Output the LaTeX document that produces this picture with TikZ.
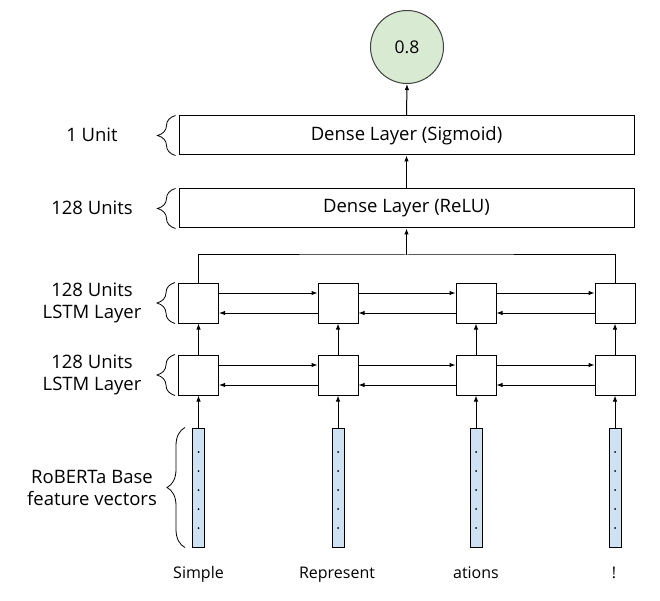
\documentclass[tikz,border=0pt]{standalone}
\usepackage{fontspec}
\setmainfont{Open Sans}
\usetikzlibrary{decorations.pathreplacing,arrows.meta}
\definecolor{vert}{RGB}{217,234,211}
\definecolor{bleu}{RGB}{207,226,243}

\begin{document}
\begin{tikzpicture}[x=1pt,y=-1pt,
	couche/.style={draw,line width=1pt,minimum width=455pt,minimum height=39pt,inner sep=0pt,font=\fontsize{18.5}{22}\selectfont},
	cellule/.style={draw,line width=1pt,minimum size=40pt,inner sep=0pt},
	vecteur/.style={draw,line width=1pt,fill=bleu,minimum width=12pt,minimum height=119pt,inner sep=0pt},
	etiq/.style={align=center,font=\fontsize{18.5}{22}\selectfont},
	mot/.style={anchor=base,font=\fontsize{16}{19}\selectfont},
	trait/.style={line width=1pt},
	fleche/.style={line width=1pt,-{Latex[length=6pt,width=4.5pt]}},
	accolade/.style={decorate,decoration={brace,amplitude=18pt},line width=0.8pt}]
	\useasboundingbox (0,0) rectangle (660,601);
	% sortie et couches denses
	\node[circle,draw=black!75,line width=1pt,fill=vert,minimum size=73pt,inner sep=0pt,font=\fontsize{17.5}{21}\selectfont] (sortie) at (407,47) {0.8};
	\node[couche] (sigmo) at (406.5,135.5) {Dense Layer (Sigmoid)};
	\node[couche] (relu) at (406.5,208.5) {Dense Layer (ReLU)};
	% cellules LSTM
	\node[cellule] (h1) at (198.5,303) {};
	\node[cellule] (h2) at (338,303) {};
	\node[cellule] (h3) at (476,303) {};
	\node[cellule] (h4) at (615,303) {};
	\node[cellule] (b1) at (198.5,375) {};
	\node[cellule] (b2) at (338,375) {};
	\node[cellule] (b3) at (476,375) {};
	\node[cellule] (b4) at (615,375) {};
	% vecteurs RoBERTa
	\node[vecteur] (v1) at (198.5,487.5) {};
	\node[vecteur] (v2) at (338,487.5) {};
	\node[vecteur] (v3) at (476,487.5) {};
	\node[vecteur] (v4) at (615,487.5) {};
	\fill (198.5,452) circle (1) (198.5,471) circle (1) (198.5,490) circle (1) (198.5,509) circle (1) (198.5,528) circle (1);
	\fill (338,452) circle (1) (338,471) circle (1) (338,490) circle (1) (338,509) circle (1) (338,528) circle (1);
	\fill (476,452) circle (1) (476,471) circle (1) (476,490) circle (1) (476,509) circle (1) (476,528) circle (1);
	\fill (615,452) circle (1) (615,471) circle (1) (615,490) circle (1) (615,509) circle (1) (615,528) circle (1);
	% mots
	\node[mot] (m1) at (198.5,578) {Simple};
	\node[mot] (m2) at (337,578) {Represent};
	\node[mot] (m3) at (476,578) {ations};
	\node[mot] (m4) at (614,578) {!};
	% etiquettes a gauche
	\node[etiq] (e1) at (92,135) {1 Unit};
	\node[etiq] (e2) at (92,208) {128 Units};
	\node[etiq] (e3) at (92,303) {128 Units\\LSTM Layer};
	\node[etiq] (e4) at (92,375) {128 Units\\LSTM Layer};
	\node[etiq] (e5) at (92,488) {RoBERTa Base\\feature vectors};
	\draw[accolade] ([xshift=-3pt]sigmo.south west) -- ([xshift=-3pt]sigmo.north west);
	\draw[accolade] ([xshift=-3pt]relu.south west) -- ([xshift=-3pt]relu.north west);
	\draw[accolade] ([xshift=-3pt]h1.south west) -- ([xshift=-3pt]h1.north west);
	\draw[accolade] ([xshift=-3pt]b1.south west) -- ([xshift=-3pt]b1.north west);
	\draw[accolade] ([xshift=-7pt]v1.south west) -- ([xshift=-7pt]v1.north west);
	% fleches verticales
	\draw[fleche] (v1.north) -- (b1.south);
	\draw[fleche] (v2.north) -- (b2.south);
	\draw[fleche] (v3.north) -- (b3.south);
	\draw[fleche] (v4.north) -- (b4.south);
	\draw[fleche] (b1.north) -- (h1.south);
	\draw[fleche] (b2.north) -- (h2.south);
	\draw[fleche] (b3.north) -- (h3.south);
	\draw[fleche] (b4.north) -- (h4.south);
	% fleches bidirectionnelles
	\draw[fleche] ([yshift=10pt]b1.east) -- ([yshift=10pt]b2.west);
	\draw[fleche] ([yshift=10pt]b2.east) -- ([yshift=10pt]b3.west);
	\draw[fleche] ([yshift=10pt]b3.east) -- ([yshift=10pt]b4.west);
	\draw[fleche] ([yshift=-10pt]b4.west) -- ([yshift=-10pt]b3.east);
	\draw[fleche] ([yshift=-10pt]b3.west) -- ([yshift=-10pt]b2.east);
	\draw[fleche] ([yshift=-10pt]b2.west) -- ([yshift=-10pt]b1.east);
	\draw[fleche] ([yshift=10pt]h1.east) -- ([yshift=10pt]h2.west);
	\draw[fleche] ([yshift=10pt]h2.east) -- ([yshift=10pt]h3.west);
	\draw[fleche] ([yshift=10pt]h3.east) -- ([yshift=10pt]h4.west);
	\draw[fleche] ([yshift=-10pt]h4.west) -- ([yshift=-10pt]h3.east);
	\draw[fleche] ([yshift=-10pt]h3.west) -- ([yshift=-10pt]h2.east);
	\draw[fleche] ([yshift=-10pt]h2.west) -- ([yshift=-10pt]h1.east);
	% vers les couches denses
	\coordinate (jonction) at (406.5,255);
	\draw[trait] (h1.north) |- (jonction) -| (h4.north);
	\draw[fleche] (jonction) -- (relu.south);
	\draw[fleche] (relu.north) -- (sigmo.south);
	\draw[fleche] (sigmo.north) -- (sortie.south);
\end{tikzpicture}
\end{document}
